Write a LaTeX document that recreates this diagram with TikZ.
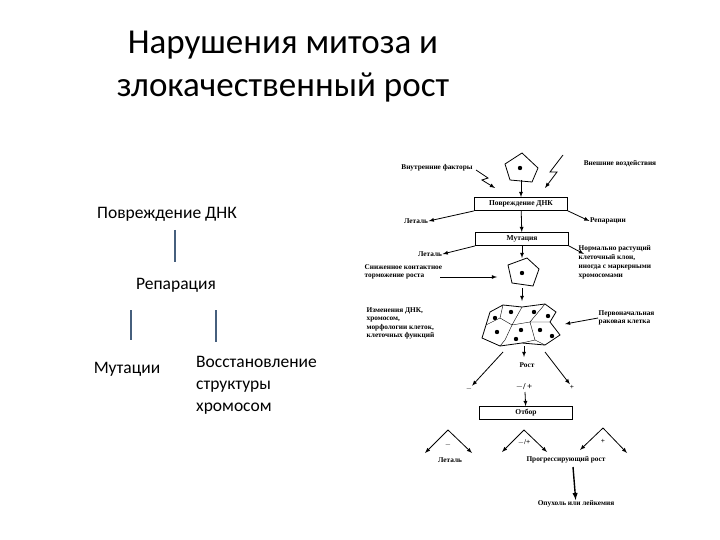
\documentclass[tikz,border=0pt]{standalone}
\usepackage{fontspec}
\setmainfont{Carlito}
\newfontfamily\scan{Liberation Serif}
\usetikzlibrary{positioning}
\tikzset{
  bar/.style={line width=2.4pt,draw={rgb,255:red,70;green,95;blue,125}},
  lbl/.style={font=\scan\bfseries\fontsize{7.3}{8.5}\selectfont,inner sep=0.5pt},
  stage/.style={draw,thick,minimum width=93pt,minimum height=13pt,inner sep=1pt,font=\scan\bfseries\fontsize{7.5}{8}\selectfont},
  arr/.style={-latex,thick},
  plain/.style={font=\fontsize{17.5}{21}\selectfont,inner sep=1pt}
}
\begin{document}
\begin{tikzpicture}[x=1pt,y=-1pt]
	\useasboundingbox (0,0) rectangle (720,540);
	%title
	\node[font=\fontsize{35}{43}\selectfont,align=center] (title) at (283,67) {Нарушения митоза и\\злокачественный рост};
	%left scheme
	\node[plain] (dmg) at (167,214) {Повреждение ДНК};
	\node[plain] (rep) at (176,285) {Репарация};
	\node[plain] (mut) at (127,369) {Мутации};
	\node[plain,anchor=north west,align=left,font=\fontsize{17.5}{22}\selectfont] (rest) at (195,355) {Восстановление\\структуры\\хромосом};
	\draw[bar] (175,230) -- (175,262);
	\draw[bar] (131,310) -- (131,340);
	\draw[bar] (216,310) -- (216,342);
	%right scheme
	\coordinate (c1) at (520,168);
	\draw[thick] (505,164) -- (522,153) -- (538,168) -- (532,182) -- (510,180) -- cycle;
	\fill (c1) circle (2.2pt);
	\node[lbl] (inner) at (437,168) {Внутренние факторы};
	\node[lbl] (outer) at (620,164) {Внешние воздействия};
	\draw[arr] (476,170) -- (488,178) -- (482,180) -- (495,188);
	\draw[arr] (563,155) -- (550,172) -- (557,172) -- (545,188);
	\node[stage] (damage) at (521,204) {Повреждение ДНК};
	\draw[arr] (521,180) -- (damage);
	\node[lbl] (let1) at (416,221) {Леталь};
	\node[lbl] (repar) at (608,221) {Репарации};
	\draw[arr] (damage.south west) -- (let1.east);
	\draw[arr] (damage.south east) -- (repar.west);
	\node[stage] (mutation) at (522,239) {Мутация};
	\draw[arr] (damage) -- (mutation);
	\node[lbl] (let2) at (430,254) {Леталь};
	\node[lbl,anchor=north west,align=left,font=\scan\bfseries\fontsize{7.3}{9}\selectfont] (clone) at (578,245) {Нормально растущий\\клеточный клон,\\иногда с маркерными\\хромосомами};
	\draw[arr] (mutation.south west) -- (let2.east);
	\draw[arr] (mutation.south east) -- (584,254);
	\coordinate (c2) at (522,273);
	\draw[thick] (508,265) -- (527,258) -- (539,269) -- (533,286) -- (512,283) -- cycle;
	\fill (c2) circle (2.2pt);
	\draw[arr] (mutation) -- (522,258);
	\node[lbl,align=left,anchor=west] (contact) at (364,272) {Сниженное контактное\\торможение роста};
	\draw[arr] (440,277) -- (497,277);
	\draw[arr] (522,288) -- (522,301);
	%cluster
	\draw[thick] (490,312) -- (503,305) -- (522,307) -- (545,304) -- (556,312) -- (550,322) -- (560,335) -- (545,345) -- (522,343) -- (500,346) -- (482,338) -- (486,325) -- cycle;
	\draw (503,305) -- (500,318) -- (486,325)
	      (500,318) -- (512,325) -- (522,307)
	      (512,325) -- (505,340) -- (500,346)
	      (512,325) -- (530,322) -- (545,304)
	      (530,322) -- (535,340) -- (522,343)
	      (530,322) -- (550,322)
	      (535,340) -- (545,345);
	\foreach \p in {(495,318),(511,312),(534,312),(548,316),(497,332),(521,330),(540,330),(516,339),(552,336)}
		\fill \p circle (2.2pt);
	\node[lbl,align=left,anchor=north west,font=\scan\bfseries\fontsize{7.3}{8.5}\selectfont] (changes) at (366,307) {Изменения ДНК,\\хромосом,\\морфологии клеток,\\клеточных функций};
	\node[lbl,align=left,anchor=west] (primary) at (598,318) {Первоначальная\\раковая клетка};
	\draw[arr] (primary.west) -- (565,324);
	\node[lbl] (grow) at (527,365) {Рост};
	\draw[arr] (524,346) -- (524,357);
	\node[lbl] (m1) at (469,389) {$-$};
	\node[lbl] (p1) at (572,387) {+};
	\draw[arr] (503,352) -- (m1);
	\draw[arr] (545,352) -- (p1);
	\node[lbl,font=\scan\bfseries\fontsize{9}{9}\selectfont] (mp1) at (524,387) {$-$/\,+};
	\node[stage] (select) at (526,413) {Отбор};
	\draw[arr] (525,392) -- (select);
	%outcomes
	\draw[arr] (448,430) -- (425,453);
	\draw[arr] (448,430) -- (472,453);
	\draw[arr] (524,430) -- (502,452);
	\draw[arr] (524,430) -- (547,452);
	\draw[arr] (603,428) -- (580,450);
	\draw[arr] (603,428) -- (627,453);
	\node[lbl] (m2) at (448,445) {$-$};
	\node[lbl] (mp2) at (524,443) {$-$/+};
	\node[lbl] (p2) at (603,441) {+};
	\node[lbl] (let3) at (450,460) {Леталь};
	\node[lbl] (prog) at (566,460) {Прогрессирующий рост};
	\node[lbl] (tumor) at (576,504) {Опухоль или лейкемия};
	\draw[arr,line width=1.4pt] (573,467) -- (tumor);
\end{tikzpicture}
\end{document}
